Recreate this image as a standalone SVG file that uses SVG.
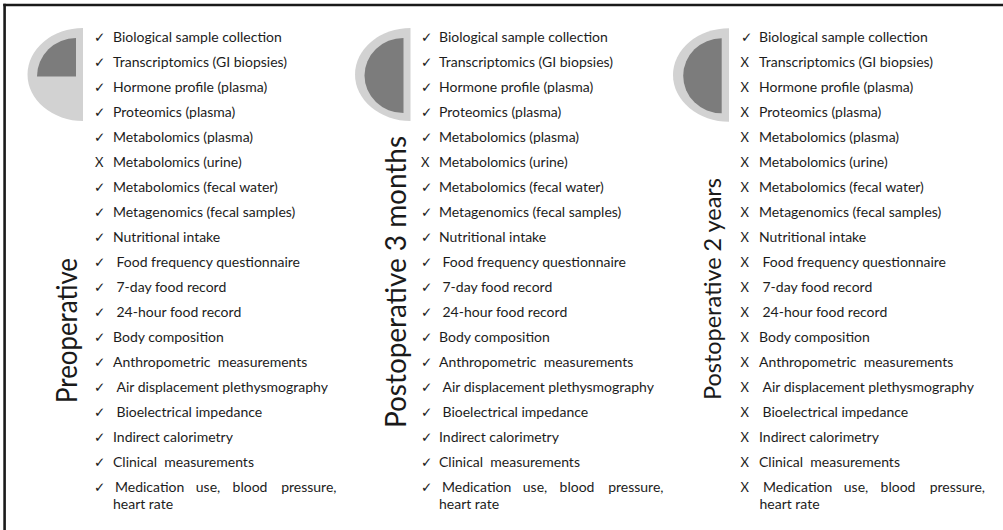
<svg xmlns="http://www.w3.org/2000/svg" width="1003" height="530" viewBox="0 0 1003 530">
<style>
.t{font-family:Lato,"Open Sans","Liberation Sans",sans-serif;font-size:14px;fill:#1c1c1c}
.m{font-family:"DejaVu Sans",sans-serif;font-size:13.5px;fill:#1c1c1c}
.x{font-family:Lato,"Liberation Sans",sans-serif;font-size:13px;fill:#1c1c1c}
.big{font-family:Lato,"Open Sans","Liberation Sans",sans-serif;fill:#1a1a1a}
.lt{fill:#d2d2d2}
.dk{fill:#7c7c7c}
.e{text-anchor:end}
</style>
<rect width="1003" height="530" fill="#fff"/>
<g id="frame" stroke="#1a1a1a" stroke-width="2.6" fill="none">
<line x1="3.3" y1="5" x2="1003" y2="5"/>
<line x1="4.6" y1="3.7" x2="4.6" y2="530"/>
</g>
<g id="connectors"/>

<g id="preoperative">
<path class="lt" d="M83,28 A55.5,46.5 0 0 0 83,121 Z"/>
<path class="dk" d="M76,76.5 L76,38 A39,38.5 0 0 0 37,76.5 Z"/>
<text class="big" font-size="28" transform="translate(76.5,403) rotate(-90)" textLength="145" lengthAdjust="spacingAndGlyphs">Preoperative</text>
<text class="m" x="94" y="41.5">✓</text><text class="t" x="113" y="41.5">Biological sample collection</text>
<text class="m" x="94" y="66.5">✓</text><text class="t" x="113" y="66.5">Transcriptomics (GI biopsies)</text>
<text class="m" x="94" y="91.5">✓</text><text class="t" x="113" y="91.5">Hormone profile (plasma)</text>
<text class="m" x="94" y="116.5">✓</text><text class="t" x="113" y="116.5">Proteomics (plasma)</text>
<text class="m" x="94" y="141.5">✓</text><text class="t" x="113" y="141.5">Metabolomics (plasma)</text>
<text class="x" x="95" y="166.5">X</text><text class="t" x="113" y="166.5">Metabolomics (urine)</text>
<text class="m" x="94" y="191.5">✓</text><text class="t" x="113" y="191.5">Metabolomics (fecal water)</text>
<text class="m" x="94" y="216.5">✓</text><text class="t" x="113" y="216.5">Metagenomics (fecal samples)</text>
<text class="m" x="94" y="241.5">✓</text><text class="t" x="113" y="241.5">Nutritional intake</text>
<text class="m" x="94" y="266.5">✓</text><text class="t" x="116.5" y="266.5">Food frequency questionnaire</text>
<text class="m" x="94" y="291.5">✓</text><text class="t" x="116.5" y="291.5">7-day food record</text>
<text class="m" x="94" y="316.5">✓</text><text class="t" x="116.5" y="316.5">24-hour food record</text>
<text class="m" x="94" y="341.5">✓</text><text class="t" x="113" y="341.5">Body composition</text>
<text class="m" x="94" y="366.5">✓</text><text class="t" x="113" y="366.5">Anthropometric&#160; measurements</text>
<text class="m" x="94" y="391.5">✓</text><text class="t" x="116.5" y="391.5">Air displacement plethysmography</text>
<text class="m" x="94" y="416.5">✓</text><text class="t" x="116.5" y="416.5">Bioelectrical impedance</text>
<text class="m" x="94" y="441.5">✓</text><text class="t" x="113" y="441.5">Indirect calorimetry</text>
<text class="m" x="94" y="466.5">✓</text><text class="t" x="113" y="466.5">Clinical&#160; measurements</text>
<text class="m" x="94" y="491.5">✓</text><text class="t" x="115" y="491.5">Medication</text><text class="t" x="195.8" y="491.5">use,</text><text class="t" x="232.6" y="491.5">blood</text><text class="t e" x="336.5" y="491.5">pressure,</text>
<text class="t" x="113" y="508.5">heart rate</text>
</g>

<g id="postoperative-3-months">
<path class="lt" d="M410.5,28 A55.5,46.5 0 0 0 410.5,121 Z"/>
<path class="dk" d="M403.5,38 A39,37.5 0 0 0 403.5,113 Z"/>
<text class="big" font-size="29" transform="translate(406,428) rotate(-90)" textLength="292" lengthAdjust="spacingAndGlyphs">Postoperative 3 months</text>
<text class="m" x="421" y="41.5">✓</text><text class="t" x="439" y="41.5">Biological sample collection</text>
<text class="m" x="421" y="66.5">✓</text><text class="t" x="439" y="66.5">Transcriptomics (GI biopsies)</text>
<text class="m" x="421" y="91.5">✓</text><text class="t" x="439" y="91.5">Hormone profile (plasma)</text>
<text class="m" x="421" y="116.5">✓</text><text class="t" x="439" y="116.5">Proteomics (plasma)</text>
<text class="m" x="421" y="141.5">✓</text><text class="t" x="439" y="141.5">Metabolomics (plasma)</text>
<text class="x" x="421" y="166.5">X</text><text class="t" x="439" y="166.5">Metabolomics (urine)</text>
<text class="m" x="421" y="191.5">✓</text><text class="t" x="439" y="191.5">Metabolomics (fecal water)</text>
<text class="m" x="421" y="216.5">✓</text><text class="t" x="439" y="216.5">Metagenomics (fecal samples)</text>
<text class="m" x="421" y="241.5">✓</text><text class="t" x="439" y="241.5">Nutritional intake</text>
<text class="m" x="421" y="266.5">✓</text><text class="t" x="442.5" y="266.5">Food frequency questionnaire</text>
<text class="m" x="421" y="291.5">✓</text><text class="t" x="442.5" y="291.5">7-day food record</text>
<text class="m" x="421" y="316.5">✓</text><text class="t" x="442.5" y="316.5">24-hour food record</text>
<text class="m" x="421" y="341.5">✓</text><text class="t" x="439" y="341.5">Body composition</text>
<text class="m" x="421" y="366.5">✓</text><text class="t" x="439" y="366.5">Anthropometric&#160; measurements</text>
<text class="m" x="421" y="391.5">✓</text><text class="t" x="442.5" y="391.5">Air displacement plethysmography</text>
<text class="m" x="421" y="416.5">✓</text><text class="t" x="442.5" y="416.5">Bioelectrical impedance</text>
<text class="m" x="421" y="441.5">✓</text><text class="t" x="439" y="441.5">Indirect calorimetry</text>
<text class="m" x="421" y="466.5">✓</text><text class="t" x="439" y="466.5">Clinical&#160; measurements</text>
<text class="m" x="421" y="491.5">✓</text><text class="t" x="442" y="491.5">Medication</text><text class="t" x="522.8" y="491.5">use,</text><text class="t" x="559.6" y="491.5">blood</text><text class="t e" x="663.5" y="491.5">pressure,</text>
<text class="t" x="439" y="508.5">heart rate</text>
</g>

<g id="postoperative-2-years">
<path class="lt" d="M729,28.3 A56,46.7 0 0 0 729,121.7 Z"/>
<path class="dk" d="M721.7,38.3 A38.5,37.5 0 0 0 721.7,113.3 Z"/>
<text class="big" font-size="24" transform="translate(721,400) rotate(-90)" textLength="222" lengthAdjust="spacingAndGlyphs">Postoperative 2 years</text>
<text class="m" x="741" y="41.5">✓</text><text class="t" x="759" y="41.5">Biological sample collection</text>
<text class="x" x="740.5" y="66.5">X</text><text class="t" x="759" y="66.5">Transcriptomics (GI biopsies)</text>
<text class="x" x="740.5" y="91.5">X</text><text class="t" x="759" y="91.5">Hormone profile (plasma)</text>
<text class="x" x="740.5" y="116.5">X</text><text class="t" x="759" y="116.5">Proteomics (plasma)</text>
<text class="x" x="740.5" y="141.5">X</text><text class="t" x="759" y="141.5">Metabolomics (plasma)</text>
<text class="x" x="740.5" y="166.5">X</text><text class="t" x="759" y="166.5">Metabolomics (urine)</text>
<text class="x" x="740.5" y="191.5">X</text><text class="t" x="759" y="191.5">Metabolomics (fecal water)</text>
<text class="x" x="740.5" y="216.5">X</text><text class="t" x="759" y="216.5">Metagenomics (fecal samples)</text>
<text class="x" x="740.5" y="241.5">X</text><text class="t" x="759" y="241.5">Nutritional intake</text>
<text class="x" x="740.5" y="266.5">X</text><text class="t" x="762.5" y="266.5">Food frequency questionnaire</text>
<text class="x" x="740.5" y="291.5">X</text><text class="t" x="762.5" y="291.5">7-day food record</text>
<text class="x" x="740.5" y="316.5">X</text><text class="t" x="762.5" y="316.5">24-hour food record</text>
<text class="x" x="740.5" y="341.5">X</text><text class="t" x="759" y="341.5">Body composition</text>
<text class="x" x="740.5" y="366.5">X</text><text class="t" x="759" y="366.5">Anthropometric&#160; measurements</text>
<text class="x" x="740.5" y="391.5">X</text><text class="t" x="762.5" y="391.5">Air displacement plethysmography</text>
<text class="x" x="740.5" y="416.5">X</text><text class="t" x="762.5" y="416.5">Bioelectrical impedance</text>
<text class="x" x="740.5" y="441.5">X</text><text class="t" x="759" y="441.5">Indirect calorimetry</text>
<text class="x" x="740.5" y="466.5">X</text><text class="t" x="759" y="466.5">Clinical&#160; measurements</text>
<text class="x" x="740.5" y="491.5">X</text><text class="t" x="763" y="491.5">Medication</text><text class="t" x="843.8" y="491.5">use,</text><text class="t" x="880.6" y="491.5">blood</text><text class="t e" x="985" y="491.5">pressure,</text>
<text class="t" x="759.5" y="508.5">heart rate</text>
</g>
</svg>
